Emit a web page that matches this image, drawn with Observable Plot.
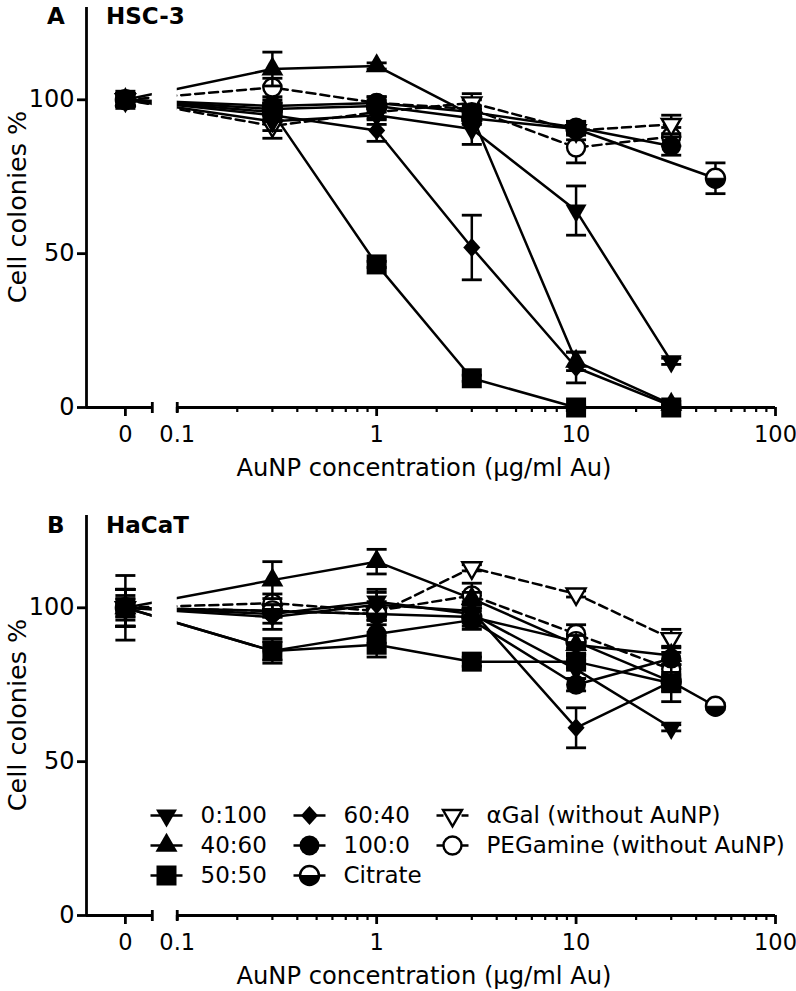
<!DOCTYPE html>
<html><head><meta charset="utf-8">
<script src="https://cdn.jsdelivr.net/npm/d3@7"></script>
<script src="https://cdn.jsdelivr.net/npm/@observablehq/plot@0.6"></script>
<style>
html,body{margin:0;padding:0;background:#fff;}
#page{position:relative;width:796px;height:991px;overflow:hidden;font-family:"DejaVu Sans",sans-serif;}
#page svg{position:absolute;left:0;overflow:visible;}
</style></head><body><div id="page"></div>
<script>
// ---------- data ----------
const concentrations = [0, 0.3, 1, 3, 10, 30, 50];
const seriesNames = ["0:100", "40:60", "50:50", "60:40", "100:0", "Citrate", "αGal (without AuNP)", "PEGamine (without AuNP)"];
const yTickValues = [0, 50, 100];
const xTickLabels = ["0", "0.1", "1", "10", "100"];

// HSC-3 (panel A) means and error (SD)
const hsc3_0_100   = [100, 93, 95, 90.5, 64, 15, null];
const hsc3_40_60   = [100, 110, 111, 95, 15, 1, null];
const hsc3_50_50   = [100, 96, 46.5, 9.5, 0, 0, null];
const hsc3_60_40   = [100, 95, 90, 52, 13, 0.5, null];
const hsc3_100_0   = [100, 98, 99, 96, 91, 85, null];
const hsc3_citrate = [100, 97, 98, 94, 90.5, null, 74.5];
const hsc3_agal    = [100, 91.5, 96, 99, 90, 92, null];
const hsc3_pegamine= [100, 104, 99, 97, 84.5, 88, null];
const hsc3_0_100_sd   = [2, 3, 3, 5, 8, 1, null];
const hsc3_40_60_sd   = [2, 5.5, 1, 2, 3, 1, null];
const hsc3_50_50_sd   = [2, 3, 1, 1, 0.5, 0.5, null];
const hsc3_60_40_sd   = [2, 2, 3.5, 10.5, 5, 0.5, null];
const hsc3_100_0_sd   = [2, 2, 2, 2, 2, 3, null];
const hsc3_citrate_sd = [2, 2, 2, 2, 2, null, 5];
const hsc3_agal_sd    = [2, 4, 2, 3, 3, 3, null];
const hsc3_pegamine_sd= [2, 3, 2, 3, 5, 3, null];

// HaCaT (panel B) means and error (SD)
const hacat_0_100   = [100, 98, 102, 98, 80, 61, null];
const hacat_40_60   = [100, 109, 115, 103, 88, 84.5, null];
const hacat_50_50   = [100, 86, 88, 82.5, 82.5, 75.5, null];
const hacat_60_40   = [100, 97, 101, 99, 61, 76, null];
const hacat_100_0   = [100, 86, 91.5, 96, 75, 83.5, null];
const hacat_citrate = [100, 99, 98, 97, 89, 76, 68];
const hacat_agal    = [100, 99, 98, 113, 104.5, 90, null];
const hacat_pegamine= [100, 101.5, 99, 104, 91.5, 80, null];
const hacat_0_100_sd   = [6, 3, 4, 3, 3, 1, null];
const hacat_40_60_sd   = [6, 6, 4, 2, 3, 3, null];
const hacat_50_50_sd   = [10.5, 4, 4, 1.5, 2, 6, null];
const hacat_60_40_sd   = [6, 4, 4, 3, 6.5, 2, null];
const hacat_100_0_sd   = [6, 3, 3, 3, 2, 2, null];
const hacat_citrate_sd = [6, 2, 2, 3, 2, 3, 1];
const hacat_agal_sd    = [3, 2, 2, 1, 1, 3, null];
const hacat_pegamine_sd= [4, 3, 3, 4, 3, 3, null];

// ---------- layout / style ----------
const ZERO_T = -1.26, BREAK_L = -1.125, BREAK_R = -1, AXIS_T = -1.455, MAX_T = 2;
const toT = c => c === 0 ? ZERO_T : Math.log10(c);
const FONT = '"DejaVu Sans", sans-serif';
const LW = 2.5, AW = 2.8;

const rad = size => Math.sqrt(size / Math.PI);
const symTriDown = {draw(c, s){const a = rad(s), h = a*Math.sqrt(3); c.moveTo(-a, -h/3); c.lineTo(a, -h/3); c.lineTo(0, 2*h/3); c.closePath();}};
const symTriUp = {draw(c, s){const a = rad(s), h = a*Math.sqrt(3); c.moveTo(-a, h/3); c.lineTo(a, h/3); c.lineTo(0, -2*h/3); c.closePath();}};
const symSquare = {draw(c, s){const a = rad(s); c.moveTo(-a,-a); c.lineTo(a,-a); c.lineTo(a,a); c.lineTo(-a,a); c.closePath();}};
const symDiamond = {draw(c, s){const a = rad(s); c.moveTo(0,-a); c.lineTo(a*0.9,0); c.lineTo(0,a); c.lineTo(-a*0.9,0); c.closePath();}};
const symCircle = {draw(c, s){const a = rad(s); c.moveTo(a,0); c.arc(0,0,a,0,2*Math.PI);}};
const symHalfLower = {draw(c, s){const a = rad(s); c.moveTo(a,0); c.arc(0,0,a,0,Math.PI); c.closePath();}};
const symHLine = {draw(c, s){const a = rad(s); c.moveTo(-a,0); c.lineTo(a,0);}};
const symVLine = {draw(c, s){const a = rad(s); c.moveTo(0,-a); c.lineTo(0,a);}};

const seriesSymbol = [symTriDown, symTriUp, symSquare, symDiamond, symCircle, "citrate", symTriDown, symCircle];
const seriesR = [10.5, 11, 10, 9.5, 10, 9.5, 9.5, 9];
const seriesOpen = [false, false, false, false, false, false, true, true];
const seriesDashed = [false, false, false, false, false, false, true, true];

function buildRows(means, sds) {
  const rows = [];
  seriesNames.forEach((name, i) => {
    concentrations.forEach((c, j) => {
      const v = means[i][j];
      if (v == null) return;
      rows.push({series: name, idx: i, conc: c, t: toT(c), v, e: sds[i][j] || 0});
    });
  });
  return rows;
}

const rowsA = buildRows(
  [hsc3_0_100, hsc3_40_60, hsc3_50_50, hsc3_60_40, hsc3_100_0, hsc3_citrate, hsc3_agal, hsc3_pegamine],
  [hsc3_0_100_sd, hsc3_40_60_sd, hsc3_50_50_sd, hsc3_60_40_sd, hsc3_100_0_sd, hsc3_citrate_sd, hsc3_agal_sd, hsc3_pegamine_sd]);
const rowsB = buildRows(
  [hacat_0_100, hacat_40_60, hacat_50_50, hacat_60_40, hacat_100_0, hacat_citrate, hacat_agal, hacat_pegamine],
  [hacat_0_100_sd, hacat_40_60_sd, hacat_50_50_sd, hacat_60_40_sd, hacat_100_0_sd, hacat_citrate_sd, hacat_agal_sd, hacat_pegamine_sd]);

function markerMarks(data, i, extra = {}) {
  const sym = seriesSymbol[i], r = seriesR[i];
  if (sym === "citrate") {
    return [
      Plot.dot(data, {...extra, symbol: symCircle, r, fill: "white", stroke: "black", strokeWidth: 2.4}),
      Plot.dot(data, {...extra, symbol: symHalfLower, r, fill: "black", stroke: "black", strokeWidth: 1})
    ];
  }
  if (seriesOpen[i]) return [Plot.dot(data, {...extra, symbol: sym, r, fill: "white", stroke: "black", strokeWidth: 2.4})];
  return [Plot.dot(data, {...extra, symbol: sym, r, fill: "black", stroke: "none"})];
}

const majorT = xTickLabels.map(l => l === "0" ? ZERO_T : Math.log10(+l));
const minorT = [];
for (let d = -1; d < 2; d++) for (let k = 2; k <= 9; k++) minorT.push(d + Math.log10(k));
const fmtX = t => xTickLabels[majorT.indexOf(t)];

function buildPanel(rows, height, marginTop, marginBottom) {
  const marks = [];
  seriesNames.forEach((name, i) => {
    marks.push(Plot.line(rows.filter(d => d.idx === i), {x: "t", y: "v", stroke: "black", strokeWidth: LW,
      strokeDasharray: seriesDashed[i] ? "9,5" : null}));
  });
  // axis break gap
  marks.push(Plot.rect([0], {x1: BREAK_L, x2: BREAK_R, y1: 1.5, y2: 130, fill: "white"}));
  for (let i = seriesNames.length - 1; i >= 0; i--) {
    const data = rows.filter(d => d.idx === i);
    const eb = data.filter(d => d.e > 0);
    marks.push(Plot.ruleX(eb, {x: "t", y1: d => d.v - d.e, y2: d => d.v + d.e, stroke: "black", strokeWidth: LW}));
    marks.push(Plot.dot(eb, {x: "t", y: d => d.v + d.e, symbol: symHLine, r: 10, stroke: "black", strokeWidth: AW}));
    marks.push(Plot.dot(eb, {x: "t", y: d => d.v - d.e, symbol: symHLine, r: 10, stroke: "black", strokeWidth: AW}));
    marks.push(...markerMarks(data, i, {x: "t", y: "v"}));
  }
  // axes
  marks.push(Plot.ruleX([AXIS_T], {y1: 0, y2: 130, stroke: "black", strokeWidth: AW}));
  marks.push(Plot.ruleY([0], {x1: AXIS_T, x2: BREAK_L, stroke: "black", strokeWidth: AW}));
  marks.push(Plot.ruleY([0], {x1: BREAK_R, x2: MAX_T, stroke: "black", strokeWidth: AW}));
  marks.push(Plot.dot([BREAK_L, BREAK_R], {x: d => d, y: 0, symbol: symVLine, r: 5.5, stroke: "black", strokeWidth: AW}));
  marks.push(Plot.axisY({ticks: yTickValues, tickSize: 9, tickPadding: 3, strokeWidth: AW, tickFormat: d => String(d), label: null}));
  marks.push(Plot.axisX({ticks: majorT.filter(t => t !== BREAK_R), tickSize: 9, tickPadding: 10, strokeWidth: AW, tickFormat: fmtX, label: null, fontSize: 22.5}));
  marks.push(Plot.axisX({ticks: [BREAK_R], tickSize: 5, tickPadding: 14, strokeWidth: AW, tickFormat: fmtX, label: null, fontSize: 22.5}));
  marks.push(Plot.axisX({ticks: minorT, tickSize: 5, tickPadding: 0, strokeWidth: 2.2, tickFormat: () => "", label: null}));
  return Plot.plot({
    width: 796, height, marginLeft: 86, marginRight: 21, marginTop, marginBottom,
    x: {domain: [AXIS_T, MAX_T]},
    y: {domain: [0, 130]},
    style: {fontFamily: FONT, fontSize: "24px", color: "black", background: "transparent", overflow: "visible"},
    marks
  });
}

function decorate(svg, letter, name, baseline, yTitleCenter, xTitleBaseline) {
  const s = d3.select(svg);
  s.append("text").attr("x", 47).attr("y", baseline).attr("text-anchor", "start").attr("font-family", FONT).attr("font-weight", "bold")
    .attr("font-size", 23).attr("fill", "black").text(letter);
  s.append("text").attr("x", 106).attr("y", baseline).attr("text-anchor", "start").attr("font-family", FONT).attr("font-weight", "bold")
    .attr("font-size", 23).attr("fill", "black").text(name);
  s.append("text").attr("transform", `translate(26,${yTitleCenter}) rotate(-90)`).attr("text-anchor", "middle")
    .attr("font-family", FONT).attr("font-size", 25.5).attr("fill", "black").text("Cell colonies %");
  s.append("text").attr("x", 424).attr("y", xTitleBaseline).attr("text-anchor", "middle")
    .attr("font-family", FONT).attr("font-size", 24.2).attr("fill", "black").text("AuNP concentration (μg/ml Au)");
}

const page = document.getElementById("page");
const svgA = buildPanel(rowsA, 495, 7, 88);
svgA.style.top = "0px";
decorate(svgA, "A", "HSC-3", 24, 207, 476);
page.appendChild(svgA);

const svgB = buildPanel(rowsB, 496, 20, 76);
svgB.style.top = "495px";
decorate(svgB, "B", "HaCaT", 38, 220, 489);
page.appendChild(svgB);

// legend
const legendRows = seriesNames.map((name, i) => ({name, i, col: Math.floor(i / 3), row: i % 3}));
const legendMarks = [];
legendRows.forEach(d => {
  legendMarks.push(Plot.dot([d], {x: "col", y: "row", symbol: symHLine, r: 16, stroke: "black", strokeWidth: LW,
    strokeDasharray: seriesDashed[d.i] ? "7,18,7" : null}));
  legendMarks.push(...markerMarks([d], d.i, {x: "col", y: "row"}));
});
legendMarks.push(Plot.text(legendRows, {x: "col", y: "row", text: "name", dx: 34, textAnchor: "start", fontSize: 23}));
const svgL = Plot.plot({
  width: 796, height: 120, margin: 0,
  x: {type: "point", domain: [0, 1, 2], range: [165, 452], padding: 0, axis: null},
  y: {type: "point", domain: [0, 1, 2], range: [35, 95], padding: 0, axis: null},
  style: {fontFamily: FONT, fontSize: "23px", color: "black", background: "transparent", overflow: "visible"},
  marks: legendMarks
});
svgL.style.top = "780px";
page.appendChild(svgL);
</script>
</body></html>
